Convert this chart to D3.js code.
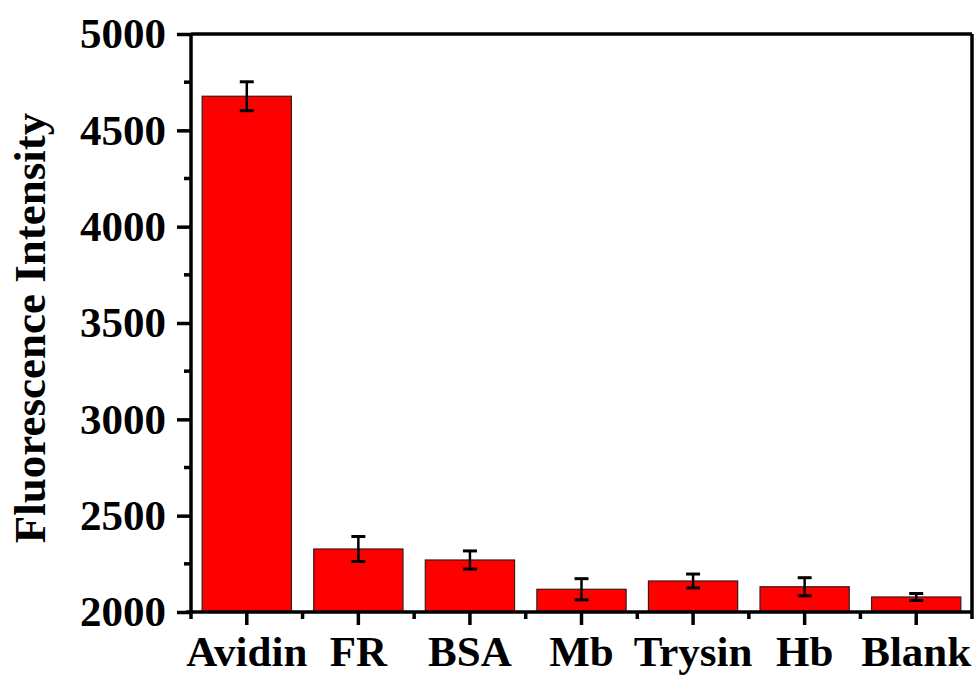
<!DOCTYPE html>
<meta charset="utf-8">
<html>
<head>
<style>
body { margin: 0; background: #fff; }
text { font-family: "Liberation Serif", "Times New Roman", serif; font-weight: bold; }
</style>
</head>
<body>
<script src="https://d3js.org/d3.v7.min.js"></script>
<script>

// data
var categories = ["Avidin", "FR", "BSA", "Mb", "Trysin", "Hb", "Blank"];
var intensity  = [4677, 2327, 2270, 2118, 2161, 2131, 2078];
var errors     = [75, 65, 47, 55, 36, 47, 18];
var yTicks     = [2000, 2500, 3000, 3500, 4000, 4500, 5000];
var yMinor     = [2250, 2750, 3250, 3750, 4250, 4750];

var margin = {top: 34, right: 7, bottom: 63, left: 191},
    width = 979 - margin.left - margin.right,
    height = 675 - margin.top - margin.bottom;

var svg = d3.select("body").append("svg")
    .attr("width", 979)
    .attr("height", 675)
  .append("g")
    .attr("transform", "translate(" + margin.left + "," + margin.top + ")");

var x = d3.scaleBand()
    .domain(categories)
    .range([0, width])
    .paddingInner(0.2)
    .paddingOuter(0.1);

var y = d3.scaleLinear()
    .domain([2000, 5000])
    .range([height, 0]);

var data = categories.map(function(c, i) {
  return {name: c, value: intensity[i], err: errors[i]};
});

// bars
svg.selectAll(".bar")
    .data(data)
  .enter().append("rect")
    .attr("class", "bar")
    .attr("x", function(d) { return x(d.name); })
    .attr("y", function(d) { return y(d.value); })
    .attr("width", x.bandwidth())
    .attr("height", function(d) { return height - y(d.value); })
    .style("fill", "#ff0000")
    .style("stroke", "#3a1a1a")
    .style("stroke-width", 1.2);

// error bars
var eb = svg.selectAll(".err")
    .data(data)
  .enter().append("g")
    .attr("class", "err")
    .attr("transform", function(d) { return "translate(" + (x(d.name) + x.bandwidth() / 2) + ",0)"; });

eb.append("line")
    .attr("y1", function(d) { return y(d.value + d.err); })
    .attr("y2", function(d) { return y(d.value - d.err); })
    .style("stroke", "#000").style("stroke-width", 2.5);
eb.selectAll(".cap")
    .data(function(d) { return [d.value + d.err, d.value - d.err]; })
  .enter().append("line")
    .attr("class", "cap")
    .attr("x1", -7).attr("x2", 7)
    .attr("y1", function(v) { return y(v); })
    .attr("y2", function(v) { return y(v); })
    .style("stroke", "#000").style("stroke-width", 3);

// frame (top and right)
svg.append("line").attr("x1", 0).attr("x2", width).attr("y1", 0).attr("y2", 0)
    .style("stroke", "#000").style("stroke-width", 3.5);
svg.append("line").attr("x1", width).attr("x2", width).attr("y1", 0).attr("y2", height)
    .style("stroke", "#000").style("stroke-width", 3.5);

// y axis
var yAxis = d3.axisLeft(y).tickValues(yTicks).tickSize(14).tickPadding(11).tickFormat(d3.format("d"));
var gy = svg.append("g").call(yAxis);
gy.append("g").selectAll("line")
    .data(yMinor)
  .enter().append("line")
    .attr("x1", -7).attr("x2", 0)
    .attr("y1", function(v) { return y(v); })
    .attr("y2", function(v) { return y(v); });

// x axis
var xAxis = d3.axisBottom(x).tickSize(13).tickPadding(10);
var gx = svg.append("g")
    .attr("transform", "translate(0," + height + ")")
    .call(xAxis);
var bounds = categories.map(function(c) { return x(c) - x.step() * x.paddingInner() / 2; });
bounds.push(width);
gx.append("g").selectAll("line")
    .data(bounds)
  .enter().append("line")
    .attr("x1", function(v) { return v; })
    .attr("x2", function(v) { return v; })
    .attr("y1", 0).attr("y2", 7);

[gx, gy].forEach(function(g) {
  g.selectAll("path").style("stroke", "#000").style("stroke-width", 3.5);
  g.selectAll("line").style("stroke", "#000").style("stroke-width", 3.5);
  g.selectAll("text")
    .style("font-family", "'Liberation Serif', 'Times New Roman', serif")
    .style("font-weight", "bold")
    .style("font-size", "43px")
    .style("fill", "#000");
});
gx.select(".domain").attr("d", "M-5,0H" + width);
gy.select(".domain").attr("d", "M0,0V" + height);

// y title
svg.append("text")
    .attr("transform", "translate(" + (45 - margin.left) + "," + (height / 2 + 5) + ") rotate(-90)")
    .attr("text-anchor", "middle")
    .style("font-size", "45px")
    .style("fill", "#000")
    .text("Fluorescence Intensity");

</script>
</body>
</html>
